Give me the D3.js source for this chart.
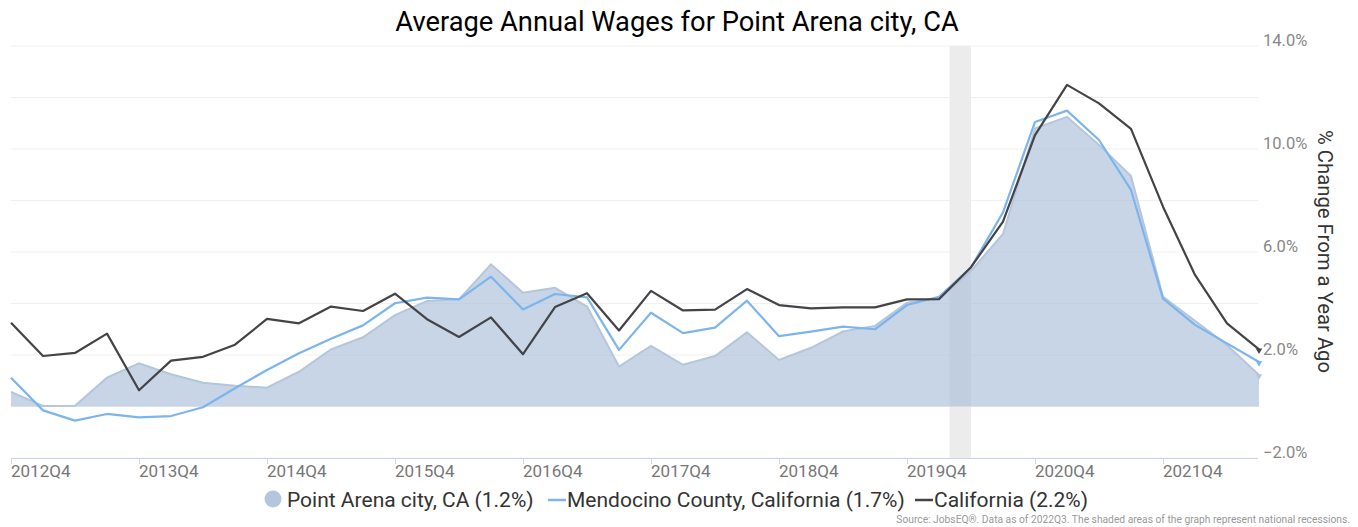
<!DOCTYPE html>
<html><head><meta charset="utf-8">
<script src="https://cdn.jsdelivr.net/npm/d3@7"></script>
<style>
body{margin:0;background:#fff;}
svg{display:block;font-family:Roboto,"Noto Sans",sans-serif;}
</style></head>
<body><svg id="c" width="1358" height="527"></svg>
<script>
const quarters = ["2012Q4","2013Q1","2013Q2","2013Q3","2013Q4","2014Q1","2014Q2","2014Q3","2014Q4","2015Q1","2015Q2","2015Q3","2015Q4","2016Q1","2016Q2","2016Q3","2016Q4","2017Q1","2017Q2","2017Q3","2017Q4","2018Q1","2018Q2","2018Q3","2018Q4","2019Q1","2019Q2","2019Q3","2019Q4","2020Q1","2020Q2","2020Q3","2020Q4","2021Q1","2021Q2","2021Q3","2021Q4","2022Q1","2022Q2","2022Q3"];
const tickLabels = ["2012Q4","2013Q4","2014Q4","2015Q4","2016Q4","2017Q4","2018Q4","2019Q4","2020Q4","2021Q4"];
const pointArena = [0.57,0.02,0.03,1.12,1.68,1.25,0.92,0.81,0.73,1.35,2.22,2.69,3.55,4.10,4.16,5.52,4.42,4.61,3.88,1.55,2.35,1.62,1.96,2.88,1.81,2.28,2.91,3.13,4.03,4.20,5.27,6.70,10.80,11.25,10.16,8.95,4.26,3.33,2.39,1.22];
const mendocino = [1.12,-0.15,-0.55,-0.29,-0.42,-0.37,-0.03,0.71,1.42,2.07,2.63,3.15,4.01,4.23,4.16,5.04,3.77,4.37,4.24,2.20,3.64,2.85,3.06,4.11,2.73,2.91,3.10,3.00,3.94,4.26,5.40,7.54,11.05,11.49,10.35,8.41,4.19,3.17,2.45,1.73];
const california = [3.25,1.96,2.08,2.83,0.63,1.78,1.93,2.40,3.40,3.23,3.88,3.71,4.38,3.39,2.70,3.46,2.03,3.86,4.40,2.95,4.49,3.73,3.76,4.56,3.94,3.81,3.85,3.85,4.16,4.17,5.41,7.18,10.54,12.49,11.77,10.78,7.76,5.11,3.23,2.22];
const yTicks = [-2,0,2,4,6,8,10,12,14];
const yLabelTicks = [-2,2,6,10,14];
const recession = [29.33, 30.0];
const seriesNames = ["Point Arena city, CA (1.2%)","Mendocino County, California (1.7%)","California (2.2%)"];

const svg = d3.select("#c");
const x = d3.scaleLinear().domain([0, quarters.length-1]).range([11, 1259]);
const y = d3.scaleLinear().domain([-2, 14]).range([458, 46]);

// gridlines
svg.append("g").selectAll("line").data(yTicks).join("line")
  .attr("x1", 11).attr("x2", 1258).attr("y1", d=>y(d)).attr("y2", d=>y(d))
  .attr("stroke", "#f0f0f0").attr("stroke-width", 1);

// recession band
svg.append("rect").attr("x", x(recession[0])).attr("width", x(recession[1])-x(recession[0]))
  .attr("y", y(14)).attr("height", y(-2)-y(14)).attr("fill", "#ececec");

// area
const idx = d3.range(quarters.length);
svg.append("path").datum(idx)
  .attr("d", d3.area().x(i=>x(i)).y0(y(0)).y1(i=>y(pointArena[i])))
  .attr("fill", "#a9bed8").attr("fill-opacity", 0.65);
svg.append("path").datum(idx)
  .attr("d", d3.line().x(i=>x(i)).y(i=>y(pointArena[i])))
  .attr("fill", "none").attr("stroke", "#b5c6da").attr("stroke-width", 2);

const line = arr => d3.line().x(i=>x(i)).y(i=>y(arr[i]));
svg.append("path").datum(idx).attr("d", line(mendocino)(idx))
  .attr("fill","none").attr("stroke","#7cb5ec").attr("stroke-width",2.2).attr("stroke-linejoin","round");
svg.append("path").datum(idx).attr("d", line(california)(idx))
  .attr("fill","none").attr("stroke","#434348").attr("stroke-width",2.2).attr("stroke-linejoin","round");

// end markers
const last = quarters.length-1;
[[pointArena,"#b5c6da"],[mendocino,"#7cb5ec"],[california,"#434348"]].forEach(([arr,c])=>{
  svg.append("path").attr("d", d3.symbol().type(d3.symbolTriangle).size(18)())
    .attr("transform", `translate(${x(last)},${y(arr[last])+1}) rotate(180)`).attr("fill", c);
});

// x axis
const xAxis = svg.append("g");
xAxis.append("line").attr("x1", 11).attr("x2", 1258).attr("y1", 458.5).attr("y2", 458.5).attr("stroke", "#ccd6eb");
xAxis.selectAll("line.t").data(tickLabels).join("line").attr("class","t")
  .attr("x1", d=>Math.round(x(quarters.indexOf(d)))+0.5).attr("x2", d=>Math.round(x(quarters.indexOf(d)))+0.5)
  .attr("y1", 458).attr("y2", 464).attr("stroke", "#ccd6eb");
xAxis.selectAll("text").data(tickLabels).join("text")
  .attr("x", d=>x(quarters.indexOf(d))).attr("y", 477)
  .attr("font-size", 17).attr("fill", "#777").text(d=>d);

// y labels
svg.append("g").selectAll("text").data(yLabelTicks).join("text")
  .attr("x", 1263).attr("y", d=>y(d)-0.5).attr("font-size", 16.5).attr("fill", "#888")
  .text(d=>d3.format(".1f")(d)+"%");

// y title
svg.append("text").attr("transform", "translate(1318,251.5) rotate(90)")
  .attr("text-anchor","middle").attr("font-size", 20.3).attr("fill", "#333")
  .text("% Change From a Year Ago");

// title
svg.append("text").attr("x", 677).attr("y", 31).attr("text-anchor","middle")
  .attr("font-size", 27.3).attr("fill", "#000").text("Average Annual Wages for Point Arena city, CA");

// legend
const lg = svg.append("g");
lg.append("circle").attr("cx", 273).attr("cy", 499).attr("r", 8.5).attr("fill", "#b3c6dd");
lg.append("text").attr("x", 287).attr("y", 507).attr("font-size", 21).attr("fill", "#333").text(seriesNames[0]);
lg.append("line").attr("x1", 548).attr("x2", 566).attr("y1", 500).attr("y2", 500).attr("stroke", "#7cb5ec").attr("stroke-width", 2.5);
lg.append("text").attr("x", 567).attr("y", 507).attr("font-size", 21).attr("fill", "#333").text(seriesNames[1]);
lg.append("line").attr("x1", 915).attr("x2", 933).attr("y1", 500).attr("y2", 500).attr("stroke", "#434348").attr("stroke-width", 2.5);
lg.append("text").attr("x", 934).attr("y", 507).attr("font-size", 21).attr("fill", "#333").text(seriesNames[2]);

svg.append("text").attr("x", 1350).attr("y", 523).attr("text-anchor","end").attr("font-size", 10.25).attr("fill", "#999")
  .text("Source: JobsEQ®. Data as of 2022Q3. The shaded areas of the graph represent national recessions.");
</script></body></html>
